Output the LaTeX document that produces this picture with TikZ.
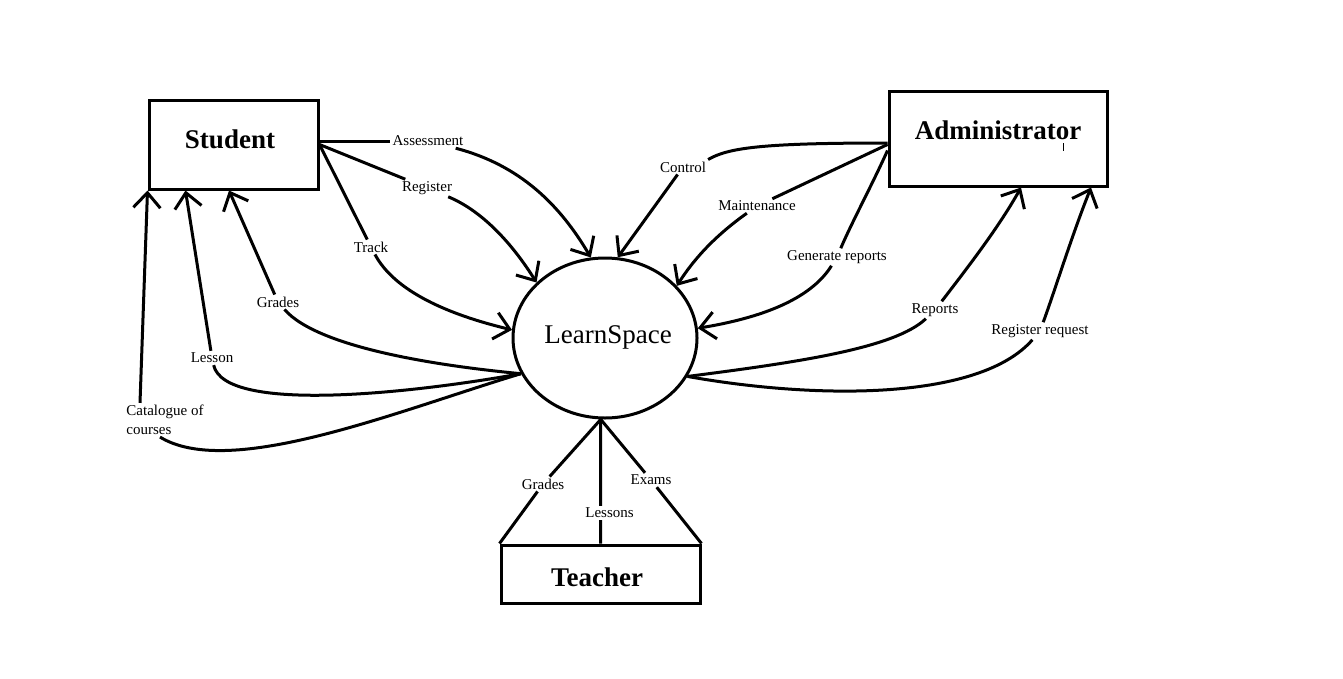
\documentclass[tikz,border=0pt]{standalone}
\usepackage{fontspec}
\setmainfont{Liberation Serif}
\usetikzlibrary{arrows.meta,shapes.geometric,calc}
\begin{document}
\begin{tikzpicture}[x=1pt,y=1pt,
  box/.style={draw, line width=3pt, inner sep=0pt},
  title/.style={font=\fontsize{27}{30}\selectfont\bfseries, inner sep=0pt},
  lbl/.style={font=\fontsize{15}{19}\selectfont, fill=white, inner sep=2pt},
  conn/.style={line width=3pt},
  arr/.style={line width=3pt, -{Straight Barb[length=15pt,width=27pt]}},
]
\fill[white] (0,0) rectangle (1343,-678);
\useasboundingbox (0,0) rectangle (1343,-678);

% boxes and process
\node[box, minimum width=169pt, minimum height=89pt] (student) at (233.5,-144.5) {};
\node[title] (studentT) at (230,-139) {Student};
\node[box, minimum width=218pt, minimum height=95pt] (adm) at (998,-138.5) {};
\node[title] (admT) at (998,-130) {Administrator};
\node[box, minimum width=199pt, minimum height=58pt] (teacher) at (600.5,-574) {};
\node[title] (teacherT) at (597,-577) {Teacher};
\node[draw, ellipse, line width=3pt, minimum width=184pt, minimum height=160pt, inner sep=0pt] (ls) at (605,-338) {};
\node[font=\fontsize{27}{30}\selectfont, inner sep=0pt] (lsT) at (608,-337) {LearnSpace};

% labels
\node[lbl] (aA) at (428,-141) {Assessment};
\node[lbl] (aR) at (427,-188) {Register};
\node[lbl] (aT) at (371,-247) {Track};
\node[lbl] (sG) at (278,-302) {Grades};
\node[lbl] (sL) at (212,-358) {Lesson};
\node[lbl, align=left] (sC) at (165,-420) {Catalogue of\\courses};
\node[lbl] (aC) at (683,-167) {Control};
\node[lbl] (aM) at (757,-206) {Maintenance};
\node[lbl] (aG) at (837,-257) {Generate reports};
\node[lbl] (aRp) at (935,-310) {Reports};
\node[lbl] (aRr) at (1040,-331) {Register request};
\node[lbl] (tG) at (543,-484) {Grades};
\node[lbl] (tE) at (651,-480) {Exams};

% student -> LearnSpace
\draw[conn] (student.east |- aA) -- (aA);
\draw[arr] (aA) .. controls (520,-165) and (560,-205) .. (ls.100);
\draw[conn] (student.east) -- (aR);
\draw[arr] (aR) .. controls (485,-212) and (515,-248) .. (ls.141);
\draw[conn] (student.east) -- (aT);
\draw[arr] (aT) .. controls (395,-292) and (450,-315) .. (ls.175);

% LearnSpace -> student
\draw[conn] (ls.203) .. controls (440,-366) and (318,-348) .. (sG);
\draw[arr] (sG) -- ([xshift=-4.5pt]student.south);
\draw[conn] (ls.203) .. controls (420,-392) and (225,-415) .. (sL);
\draw[arr] (sL) -- ([xshift=-48pt]student.south);
\draw[conn] (ls.203) .. controls (400,-410) and (230,-480) .. ([xshift=-5pt]sC.south);
\draw[arr] ([xshift=-25pt]sC.north) -- (student.south west);

% administrator -> LearnSpace
\draw[conn] ([yshift=-4.5pt]adm.west) .. controls (760,-143) and (728,-148) .. (aC.north east);
\draw[arr] (aC) -- (ls.81);
\draw[conn] ([yshift=-6pt]adm.west) -- (aM);
\draw[arr] (aM) .. controls (712,-238) and (692,-262) .. (ls.36);
\draw[conn] ([yshift=-12pt]adm.west) .. controls (872,-185) and (852,-222) .. (aG);
\draw[arr] (aG) .. controls (810,-300) and (760,-318) .. (ls.6);

% LearnSpace -> administrator
\draw[conn] (ls.-25) .. controls (800,-362) and (895,-348) .. (aRp);
\draw[arr] (aRp) .. controls (972,-262) and (1000,-225) .. ([xshift=23pt]adm.south);
\draw[conn] (ls.-25) .. controls (820,-400) and (980,-400) .. (aRr);
\draw[arr] (aRr) .. controls (1055,-290) and (1072,-235) .. ([xshift=93pt]adm.south);

% teacher
\draw[conn] (teacher.north west) -- (tG);
\draw[conn] (tG) -- (ls.267);
\draw[conn] (teacher.north east) -- (tE);
\draw[conn] (tE) -- (ls.267);
\draw[conn] (teacher.north) -- node[lbl, pos=0.246, xshift=9pt] (tL) {Lessons} (ls.267);

% small stray mark in administrator box
\draw[line width=0.8pt] (1063.5,-143) -- (1063.5,-151);
\end{tikzpicture}
\end{document}
